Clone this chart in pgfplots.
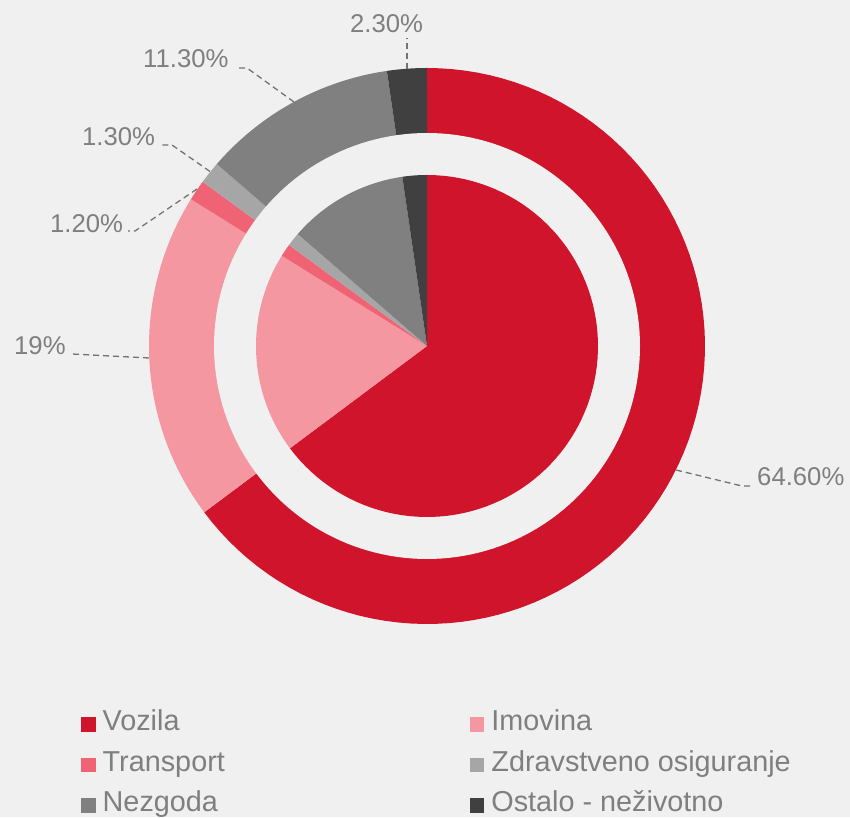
\documentclass[border=0pt]{standalone}
\usepackage{pgfplots}
\pgfplotsset{compat=1.18}
\usepackage{pgfplotstable}
\usepackage{fontspec}
\setmainfont{Liberation Sans}

\definecolor{voz}{HTML}{CF142B}
\definecolor{imo}{HTML}{F597A1}
\definecolor{tra}{HTML}{F06374}
\definecolor{zdr}{HTML}{A6A6A6}
\definecolor{nez}{HTML}{808080}
\definecolor{ost}{HTML}{404040}
\definecolor{bgc}{HTML}{F0F0F0}
\definecolor{txt}{HTML}{7F7F7F}

% shares in percent, same order as the legend
\pgfplotstableread[col sep=comma]{
name,value,color
Vozila,64.6,voz
Imovina,19,imo
Transport,1.2,tra
Zdravstveno osiguranje,1.3,zdr
Nezgoda,11.3,nez
Ostalo - neživotno,2.3,ost
}\shares

\begin{document}
\begin{tikzpicture}
\fill[bgc] (0,0) rectangle (850pt,817pt);
\begin{axis}[
  at={(0,0)}, anchor=south west,
  scale only axis, width=850pt, height=817pt,
  xmin=0, xmax=850, ymin=0, ymax=817,
  hide axis, clip=false,
  legend columns=2,
  legend image code/.code={\fill[#1] (0pt,-1pt) rectangle (14.7pt,13.7pt);},
  legend style={
    at={(axis cs:81,107.3)}, anchor=north west,
    draw=none, fill=none, inner sep=0pt, outer sep=0pt,
    column sep=7pt, row sep=13.5pt,
    font=\fontsize{28.8}{34}\selectfont, text=txt,
    cells={anchor=base west},
    nodes={inner sep=0pt, text height=21pt, text depth=6pt, anchor=base west},
    /tikz/column 2/.style={nodes={text width=360pt, align=left}},
  },
]
% total of the shares
\def\tot{0}
\pgfplotsforeachungrouped \i in {0,...,5}{%
  \pgfplotstablegetelem{\i}{value}\of\shares
  \pgfmathsetmacro\tot{\tot+\pgfplotsretval}\xdef\tot{\tot}%
}
% outer ring (drawn as full wedges, centre masked below)
\def\cum{0}
\pgfplotsforeachungrouped \i in {0,...,5}{%
  \pgfplotstablegetelem{\i}{value}\of\shares\let\v\pgfplotsretval
  \pgfplotstablegetelem{\i}{color}\of\shares\let\c\pgfplotsretval
  \pgfplotstablegetelem{\i}{name}\of\shares\let\n\pgfplotsretval
  \pgfmathsetmacro\a{\cum/\tot*360}%
  \pgfmathsetmacro\cumnew{\cum+\v}%
  \pgfmathsetmacro\b{\cumnew/\tot*360}%
  \edef\doit{\noexpand\addplot[fill=\c, draw=none, domain=\a:\b, samples=90, variable=\noexpand\t]
    ({427+278*sin(\noexpand\t)},{471+278*cos(\noexpand\t)}) -- (axis cs:427,471) -- cycle;
    \noexpand\addlegendentry{\n}}%
  \doit
  \xdef\cum{\cumnew}%
}
% gap between ring and inner pie
\addplot[fill=bgc, draw=none, domain=0:360, samples=181, variable=\t, forget plot]
  ({427+213*sin(\t)},{471+213*cos(\t)}) -- cycle;
% inner pie
\def\cum{0}
\pgfplotsforeachungrouped \i in {0,...,5}{%
  \pgfplotstablegetelem{\i}{value}\of\shares\let\v\pgfplotsretval
  \pgfplotstablegetelem{\i}{color}\of\shares\let\c\pgfplotsretval
  \pgfmathsetmacro\a{\cum/\tot*360}%
  \pgfmathsetmacro\cumnew{\cum+\v}%
  \pgfmathsetmacro\b{\cumnew/\tot*360}%
  \edef\doit{\noexpand\addplot[fill=\c, draw=none, domain=\a:\b, samples=90, variable=\noexpand\t, forget plot]
    ({427+171*sin(\noexpand\t)},{471+171*cos(\noexpand\t)}) -- (axis cs:427,471) -- cycle;}%
  \doit
  \xdef\cum{\cumnew}%
}
% leader lines
\begin{scope}[color=black!55, line width=1.3pt, dash pattern=on 6pt off 4pt]
\draw (axis cs:676,347) -- (axis cs:742,331) -- (axis cs:750,331);
\draw (axis cs:149,459) -- (axis cs:72,463);
\draw (axis cs:197,628) -- (axis cs:135,586) -- (axis cs:128,586);
\draw (axis cs:210,645.5) -- (axis cs:172,672) -- (axis cs:162,672);
\draw (axis cs:294,715) -- (axis cs:247,749) -- (axis cs:238,749);
\draw (axis cs:407,748) -- (axis cs:407,779);
\end{scope}
% data labels
\begin{scope}[every node/.style={text=txt, inner sep=0pt, anchor=base west,
    font=\fontsize{25.7}{30}\selectfont}]
\node at (axis cs:757,331) {64.60\%};
\node at (axis cs:14,462) {19\%};
\node at (axis cs:50,584) {1.20\%};
\node at (axis cs:82,671) {1.30\%};
\node at (axis cs:143,749.3) {11.30\%};
\node at (axis cs:350,784.7) {2.30\%};
\end{scope}
\end{axis}
\pgfresetboundingbox
\path[use as bounding box] (0,0) rectangle (850pt,817pt);
\end{tikzpicture}
\end{document}
